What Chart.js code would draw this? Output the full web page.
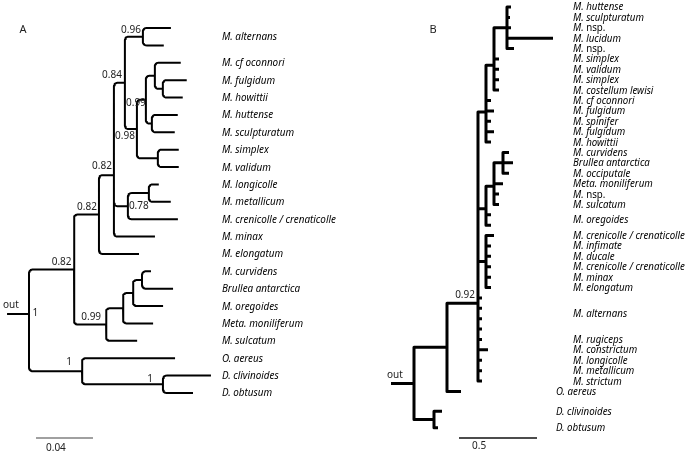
<!DOCTYPE html>
<html>
<head>
<meta charset="utf-8">
<script src="https://cdn.jsdelivr.net/npm/chart.js@4.4.1/dist/chart.umd.min.js"></script>
<style>
  body { margin: 0; background: #fff; }
  #wrap { position: relative; width: 690px; height: 455px; }
  canvas { position: absolute; top: 0; }
</style>
</head>
<body>
<div id="wrap">
  <canvas id="treeA" width="345" height="455" style="left:0"></canvas>
  <canvas id="treeB" width="345" height="455" style="left:345px"></canvas>
</div>
<script>
// ---- panel A (tips are numbered in the newick string, branch lengths in subst./site)
const namesA = ['M. alternans', 'M. alternans', 'M. cf oconnori', 'M. fulgidum', 'M. howittii',
  'M. huttense', 'M. sculpturatum', 'M. simplex', 'M. validum', 'M. longicolle', 'M. metallicum',
  'M. crenicolle / crenaticolle', 'M. minax', 'M. elongatum', 'M. curvidens', 'Brullea antarctica',
  'M. oregoides', 'Meta. moniliferum', 'M. sulcatum', 'O. aereus', 'D. clivinoides', 'D. obtusum'];
const rowsA = [0, 1, 2, 3, 4, 5, 6, 7, 8, 9, 10, 11, 12, 13, 14, 15, 16, 17, 18, 19, 20, 21];
const newickA = '((((((0:0.0197,1:0.0147)0.96:0.0126,(((2:0.0182,(3:0.0168,4:0.0140):0.0056):0.0063,(5:0.0182,6:0.0161):0.0042)0.99:0.0063,(7:0.0147,8:0.0147):0.0147)0.98:0.0084)0.84:0.0077,((9:0.0070,10:0.0154):0.0147,11:0.0351)0.78:0.0098,12:0.0288)0.82:0.0105,13:0.0281)0.82:0.0175,((((14:0.0063,15:0.0218):0.0063,16:0.0211):0.0070,17:0.0211):0.0119,18:0.0218)0.99:0.0225)0.82:0.0316,(19:0.0653,(20:0.0337,21:0.0211)1:0.0568)1:0.0372)1;';
const rootRowA = 16.45;
const outStubA = 0.0154;
const scaleLenA = 0.04;

// ---- panel B
const namesB = ['M. huttense', 'M. sculpturatum', 'M. nsp.', 'M. lucidum', 'M. nsp.', 'M. simplex',
  'M. validum', 'M. simplex', 'M. costellum lewisi', 'M. cf oconnori', 'M. fulgidum', 'M. spinifer',
  'M. fulgidum', 'M. howittii', 'M. curvidens', 'Brullea antarctica', 'M. occiputale',
  'Meta. moniliferum', 'M. nsp.', 'M. sulcatum', 'M. oregoides', 'M. oregoides',
  'M. crenicolle / crenaticolle', 'M. infimate', 'M. ducale', 'M. crenicolle / crenaticolle',
  'M. minax', 'M. elongatum', 'M. alternans', 'M. alternans', 'M. alternans', 'M. alternans',
  'M. rugiceps', 'M. constrictum', 'M. longicolle', 'M. metallicum', 'M. strictum',
  'O. aereus', 'D. clivinoides', 'D. obtusum'];
const rowsB = [0, 1, 2, 3, 4, 5, 6, 7, 8, 9, 10, 11, 12, 13, 14, 15, 16, 17, 18, 19, 20, 21, 22, 23,
  24, 25, 26, 27, 28, 29, 30, 31, 32, 33, 34, 35, 36, 37, 38.9, 40.5];
const newickB = '((((((0:0.0256,1:0.0192,2:0.0256,3:0.2949,4:0.0449):0.0833,5:0.0321,6:0.0321,7:0.0321,8:0.0321):0.0513,9:0.0321,10:0.0513,11:0.0321,12:0.0513,13:0.0321):0.0513,(((14:0.0385,15:0.0641,16:0.0385):0.0577,17:0.0577,18:0.0321,19:0.0321):0.0513,20:0.0321,21:0.0321):0.0513,(22:0.0513,23:0.0321,24:0.0321,25:0.0321,26:0.0321,27:0.0321):0.0513,28:0.0256,29:0.0256,30:0.0256,31:0.0256,32:0.0256,33:0.0641,34:0.0256,35:0.0256,36:0.0256)0.92:0.1987,37:0.0897):0.2115,(38:0.0513,39:0.0256):0.1282);';
const outStubB = 0.1474;
const scaleLenB = 0.5;

function parseNewick(s) {
  let i = 0;
  function node() {
    const n = { children: [], label: '', len: 0 };
    if (s[i] === '(') {
      i++;
      n.children.push(node());
      while (s[i] === ',') { i++; n.children.push(node()); }
      i++;
    }
    while (i < s.length && !':,);'.includes(s[i])) n.label += s[i++];
    if (s[i] === ':') {
      i++;
      let num = '';
      while (i < s.length && !',);'.includes(s[i])) num += s[i++];
      n.len = parseFloat(num);
    }
    return n;
  }
  return node();
}

const panels = {};

const treeText = {
  id: 'treeText',
  afterDatasetsDraw(chart) {
    const P = panels[chart.canvas.id];
    const ctx = chart.ctx;
    const X = v => chart.scales.x.getPixelForValue(v);
    const Y = v => chart.scales.y.getPixelForValue(v);
    const tipFont = 'italic 10.5px "Noto Sans"';
    ctx.save();
    ctx.textBaseline = 'middle';

    // tip names, consecutive repeats share one label
    ctx.font = tipFont;
    const k = P.labelWidth / ctx.measureText('M. crenicolle / crenaticolle').width;
    ctx.fillStyle = '#000';
    let i = 0;
    while (i < P.names.length) {
      let j = i;
      while (j + 1 < P.names.length && P.names[j + 1] === P.names[i]) j++;
      const row = (P.rows[i] + P.rows[j]) / 2;
      const lx = i >= P.outFrom ? P.outLabelX : P.labelX;
      const name = P.names[i];
      ctx.save();
      ctx.translate(X(lx), Y(row) + 0.5);
      ctx.scale(k, 1);
      ctx.textAlign = 'left';
      ctx.font = tipFont;
      if (/ nsp\.$/.test(name)) {
        const head = name.replace(/nsp\.$/, '');
        ctx.fillText(head, 0, 0);
        const w = ctx.measureText(head).width;
        ctx.font = '10.5px "Noto Sans"';
        ctx.fillText('nsp.', w, 0);
      } else {
        ctx.fillText(name, 0, 0);
      }
      ctx.restore();
      i = j + 1;
    }

    // support values
    ctx.font = '10px "Noto Sans"';
    ctx.fillStyle = '#222';
    P.supports.forEach((n, idx) => {
      const pl = P.place[idx] || {};
      ctx.textAlign = pl.a || 'right';
      ctx.fillText(n.label, X(n.x) + (pl.dx ?? -2.5), Y(n.y) + (pl.dy ?? -8));
    });

    // outgroup stub label
    ctx.textAlign = 'left';
    ctx.fillText('out', X(-P.stub) - 4, Y(P.root.y) - 8.5);

    // scale bar label
    ctx.fillText(String(P.bar.len), X(P.bar.x) + P.bar.dx, Y(P.bar.row) + P.bar.dy);

    // panel letter
    ctx.textAlign = 'center';
    ctx.font = '11px "Noto Sans"';
    ctx.fillText(P.letter.text, P.letter.x, P.letter.y);
    ctx.restore();
  }
};

function drawPanel(id, newick, names, rows, cfg) {
  const root = parseNewick(newick);
  const order = [];
  (function place(n, base) {
    n.x = base + n.len;
    order.push(n);
    if (!n.children.length) {
      n.y = rows[+n.label];
    } else {
      n.children.forEach(c => place(c, n.x));
      n.y = n.children.reduce((s, c) => s + c.y, 0) / n.children.length;
    }
  })(root, 0);
  if (cfg.rootRow != null) root.y = cfg.rootRow;

  // size of one canvas pixel in data units, used for the rounded elbows
  const ux = (cfg.xRange[1] - cfg.xRange[0]) / 345;
  const uy = (cfg.yRange[1] - cfg.yRange[0]) / 455;
  const r = cfg.corner || 0;

  const branches = [];
  order.forEach(n => n.children.forEach(c => {
    branches.push({ x: n.x, y: n.y });
    const dyRows = c.y - n.y;
    if (r && Math.abs(dyRows) > r * uy * 1.2) {
      const s = Math.sign(dyRows);
      for (let t = 0; t <= 6; t++) {
        const a = (t / 6) * Math.PI / 2;
        branches.push({
          x: n.x + r * ux * (1 - Math.cos(a)),
          y: c.y - s * r * uy * (1 - Math.sin(a))
        });
      }
    } else {
      branches.push({ x: n.x, y: c.y });
    }
    branches.push({ x: c.x, y: c.y }, { x: c.x, y: null });
  }));
  branches.push({ x: -cfg.stub, y: root.y }, { x: 0, y: root.y });

  panels[id] = Object.assign({}, cfg, {
    names, rows, root,
    supports: order.filter(n => n.children.length && n.label)
  });

  new Chart(document.getElementById(id), {
    type: 'scatter',
    data: {
      datasets: [
        {
          data: branches, showLine: true, spanGaps: false,
          borderColor: '#000', borderWidth: cfg.lineWidth,
          borderJoinStyle: 'round', pointRadius: 0
        },
        {
          data: [{ x: cfg.bar.x, y: cfg.bar.row }, { x: cfg.bar.x + cfg.bar.len, y: cfg.bar.row }],
          showLine: true, borderColor: cfg.bar.color, borderWidth: 1.5, pointRadius: 0
        }
      ]
    },
    options: {
      responsive: false,
      animation: false,
      events: [],
      layout: { padding: 0 },
      plugins: { legend: { display: false }, tooltip: { enabled: false } },
      scales: {
        x: { type: 'linear', display: false, min: cfg.xRange[0], max: cfg.xRange[1] },
        y: { type: 'linear', display: false, reverse: true, min: cfg.yRange[0], max: cfg.yRange[1] }
      }
    },
    plugins: [treeText]
  });
}

drawPanel('treeA', newickA, namesA, rowsA, {
  rootRow: rootRowA, stub: outStubA, lineWidth: 2, corner: 3.5,
  xRange: [-0.02035, 0.22177], yRange: [-1.611, 24.567],
  labelX: 0.1354, outLabelX: 0.1354, outFrom: Infinity, labelWidth: 114,
  bar: { x: 0.0049, row: 23.59, len: scaleLenA, color: '#808080', dx: 10, dy: 10.5 },
  letter: { text: 'A', x: 23, y: 30 },
  place: [
    { a: 'left', dx: 3.5, dy: -1 },   // 1 (root)
    { dx: -2.5, dy: -7.5 },           // 0.82
    { dx: -2, dy: -7.5 },             // 0.82
    { dx: -2, dy: -9 },               // 0.82
    { dx: -3, dy: -8 },               // 0.84
    { dx: -2, dy: -7 },               // 0.96
    { dx: -2, dy: 7.5 },              // 0.98
    { dx: 0, dy: 3 },                 // 0.99
    { a: 'left', dx: 1, dy: 0 },      // 0.78
    { dx: -5, dy: -7.5 },             // 0.99
    { dx: -10, dy: -9 },              // 1
    { dx: -10, dy: -5.5 }             // 1
  ]
});

drawPanel('treeB', newickB, namesB, rowsB, {
  stub: outStubB, lineWidth: 3,
  xRange: [-0.4423, 1.7692], yRange: [-0.674, 43.118],
  labelX: 1.019, outLabelX: 0.910, outFrom: 37, labelWidth: 112,
  bar: { x: 0.2885, row: 41.48, len: scaleLenB, color: '#111', dx: 13, dy: 8 },
  letter: { text: 'B', x: 88, y: 30 },
  place: [{ dx: -3, dy: -8 }]
});
</script>
</body>
</html>
